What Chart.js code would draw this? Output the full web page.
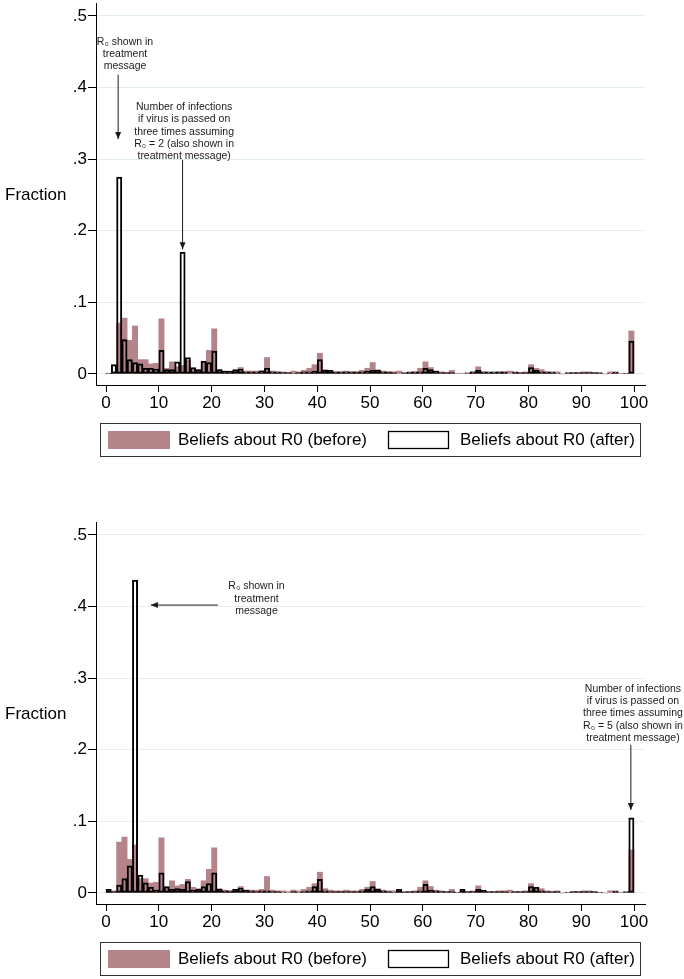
<!DOCTYPE html>
<html>
<head>
<meta charset="utf-8">
<script src="https://cdn.jsdelivr.net/npm/chart.js@4.4.1/dist/chart.umd.min.js"></script>
<style>
  html, body { margin: 0; padding: 0; background: #fff; }
  .panel { position: absolute; left: 0; width: 684px; height: 460px; }
  #p1 { top: 0; }
  #p2 { top: 519px; }
</style>
</head>
<body>
<div class="panel" id="p1"><canvas id="chartTop"></canvas></div>
<div class="panel" id="p2"><canvas id="chartBottom"></canvas></div>
<script>
	// bins of width 1 (left edge), last bin holds 99 and 100
	const binStart = [
		0, 1, 2, 3, 4, 5, 6, 7, 8, 9,
		10, 11, 12, 13, 14, 15, 16, 17, 18, 19,
		20, 21, 22, 23, 24, 25, 26, 27, 28, 29,
		30, 31, 32, 33, 34, 35, 36, 37, 38, 39,
		40, 41, 42, 43, 44, 45, 46, 47, 48, 49,
		50, 51, 52, 53, 54, 55, 56, 57, 58, 59,
		60, 61, 62, 63, 64, 65, 66, 67, 68, 69,
		70, 71, 72, 73, 74, 75, 76, 77, 78, 79,
		80, 81, 82, 83, 84, 85, 86, 87, 88, 89,
		90, 91, 92, 93, 94, 95, 96, 97, 98, 99
	];

	// beliefs before (same in both panels)
	const before = [
		.001, .003, .071, .078, .047, .067, .020, .020, .014, .015,
		.077, .008, .017, .010, .012, .019, .008, .006, .017, .033,
		.063, .006, .004, .003, .005, .009, .004, .004, .004, .005,
		.023, .004, .003, .003, .002, .004, .003, .005, .008, .013,
		.029, .006, .004, .003, .003, .004, .003, .003, .005, .008,
		.016, .006, .004, .003, .003, .004, .001, .002, .003, .008,
		.017, .009, .004, .003, .002, .005, .001, .001, .002, .003,
		.010, .003, .002, .002, .003, .003, .004, .002, .002, .003,
		.013, .008, .006, .003, .002, .003, 0, .001, .002, .002,
		.003, .003, .002, .001, 0, .003, .002, .001, .001, .060
	];

	// beliefs after, R0 = 2 treatment (top panel)
	const afterTop = [
		.001, .013, .275, .048, .020, .016, .014, .008, .008, .007,
		.033, .006, .006, .017, .170, .023, .009, .006, .018, .016,
		.032, .006, .004, .004, .006, .007, .003, .003, .003, .004,
		.008, .003, .003, .002, .002, .001, .002, .003, .003, .004,
		.020, .005, .005, .003, .003, .003, .003, .003, .003, .004,
		.005, .005, .003, .003, .002, 0, .002, .003, .003, .003,
		.008, .006, .004, .002, .002, .002, 0, 0, .001, .003,
		.005, .003, .003, .003, .003, .003, 0, .003, .002, .002,
		.009, .005, .003, .003, .003, .001, 0, .002, .002, .002,
		.002, .002, .002, .002, 0, .001, .003, 0, .001, .046
	];

	// beliefs after, R0 = 5 treatment (bottom panel)
	const afterBottom = [
		.005, .002, .011, .020, .038, .437, .025, .014, .008, .004,
		.028, .009, .005, .006, .005, .016, .004, .005, .009, .013,
		.028, .005, .003, .003, .005, .007, .004, .003, .002, .003,
		.003, .002, .002, .001, 0, .002, .001, .002, .003, .009,
		.019, .003, .002, .002, .002, .002, .002, .002, .003, .005,
		.009, .005, .003, .002, .001, .005, .002, .002, .002, .003,
		.012, .004, .003, .002, .002, .002, .001, .005, .002, .002,
		.005, .004, .002, .002, .002, .002, .001, .002, .002, .002,
		.009, .008, .003, .002, .002, .002, 0, .001, .002, .002,
		.002, .002, .002, .001, 0, 0, .003, 0, .002, .105
	];

	const yTicks = [0, .1, .2, .3, .4, .5];
	const yTickLabels = ['0', '.1', '.2', '.3', '.4', '.5'];
	const xTicks = [0, 10, 20, 30, 40, 50, 60, 70, 80, 90, 100];
	const legendLabels = ['Beliefs about R0 (before)', 'Beliefs about R0 (after)'];
	const yTitle = 'Fraction';

	// annotations, positions in data units
	const notesTop = [
		{ lines: ['R\u2080 shown in', 'treatment', 'message'], tx: 3.6, ty: .464,
		  from: [2.3, .418], to: [2.3, .328] },
		{ lines: ['Number of infections', 'if virus is passed on', 'three times assuming', 'R\u2080 = 2 (also shown in', 'treatment message)'],
		  tx: 14.8, ty: .3725, from: [14.5, .299], to: [14.5, .174] }
	];
	const notesBottom = [
		{ lines: ['R\u2080 shown in', 'treatment', 'message'], tx: 28.5, ty: .428,
		  from: [21.2, .402], to: [8.5, .402] },
		{ lines: ['Number of infections', 'if virus is passed on', 'three times assuming', 'R\u2080 = 5 (also shown in', 'treatment message)'],
		  tx: 99.8, ty: .285, from: [99.4, .207], to: [99.4, .116] }
	];

	const FONT = "'Liberation Sans', Arial, Helvetica, sans-serif";
	const MAUVE = 'rgb(180, 132, 139)';

	const decorPlugin = {
		id: 'decor',
		afterDraw(chart, args, opts) {
			const ctx = chart.ctx;
			const xs = chart.scales.x;
			const ys = chart.scales.y;
			const area = chart.chartArea;
			ctx.save();

			// y title, horizontal
			ctx.fillStyle = '#000';
			ctx.font = '17px ' + FONT;
			ctx.textAlign = 'left';
			ctx.textBaseline = 'middle';
			ctx.fillText(yTitle, 5, ys.getPixelForValue((yTicks[0] + yTicks[yTicks.length - 1]) / 2));

			// notes + arrows
			ctx.font = '10.5px ' + FONT;
			ctx.textAlign = 'center';
			ctx.fillStyle = '#1a1a1a';
			for (const n of opts.notes) {
				const tx = xs.getPixelForValue(n.tx);
				const ty = ys.getPixelForValue(n.ty);
				n.lines.forEach((l, i) => ctx.fillText(l, tx, ty + i * 12.3));
				const x1 = xs.getPixelForValue(n.from[0]), y1 = ys.getPixelForValue(n.from[1]);
				const x2 = xs.getPixelForValue(n.to[0]), y2 = ys.getPixelForValue(n.to[1]);
				ctx.strokeStyle = '#1a1a1a';
				ctx.lineWidth = 1;
				ctx.beginPath();
				ctx.moveTo(x1, y1);
				ctx.lineTo(x2, y2);
				ctx.stroke();
				const a = Math.atan2(y2 - y1, x2 - x1);
				ctx.beginPath();
				ctx.moveTo(x2, y2);
				ctx.lineTo(x2 - 7 * Math.cos(a) + 3 * Math.sin(a), y2 - 7 * Math.sin(a) - 3 * Math.cos(a));
				ctx.lineTo(x2 - 7 * Math.cos(a) - 3 * Math.sin(a), y2 - 7 * Math.sin(a) + 3 * Math.cos(a));
				ctx.closePath();
				ctx.fill();
			}

			// legend box
			const lx = area.left + 4, lw = area.right - 5 - lx;
			const ly = area.bottom + 38, lh = 33;
			ctx.strokeStyle = '#333';
			ctx.lineWidth = 1;
			ctx.strokeRect(lx + 0.5, ly + 0.5, lw, lh);
			ctx.fillStyle = MAUVE;
			ctx.fillRect(lx + 8, ly + 8, 62, 18);
			ctx.fillStyle = '#fff';
			ctx.fillRect(lx + 288, ly + 8, 61, 18);
			ctx.strokeStyle = '#000';
			ctx.lineWidth = 1.3;
			ctx.strokeRect(lx + 288.5, ly + 8.5, 60, 17);
			ctx.fillStyle = '#000';
			ctx.font = '17px ' + FONT;
			ctx.textAlign = 'left';
			ctx.textBaseline = 'middle';
			ctx.fillText(legendLabels[0], lx + 78, ly + 17.5);
			ctx.fillText(legendLabels[1], lx + 360, ly + 17.5);
			ctx.restore();
		}
	};

	function makeChart(id, after, notes) {
		const ctx = document.getElementById(id);
		return new Chart(ctx, {
			type: 'bar',
			data: {
				datasets: [
					{
						label: legendLabels[0],
						data: binStart.map((b, i) => ({ x: b + 0.5, y: before[i] })),
						backgroundColor: MAUVE,
						borderWidth: 0,
						grouped: false,
						order: 2,
						barPercentage: 1,
						categoryPercentage: 1
					},
					{
						label: legendLabels[1],
						data: binStart.map((b, i) => ({ x: b + 0.5, y: after[i] })),
						backgroundColor: 'rgba(0,0,0,0)',
						borderColor: '#000',
						borderWidth: 1.3,
						borderSkipped: false,
						grouped: false,
						order: 1,
						barPercentage: 1,
						categoryPercentage: 1
					}
				]
			},
			options: {
				responsive: true,
				maintainAspectRatio: false,
				animation: false,
				layout: { padding: { left: 0, top: 3, right: 39, bottom: 35 } },
				plugins: {
					legend: { display: false },
					tooltip: { enabled: false },
					decor: { notes: notes }
				},
				scales: {
					x: {
						type: 'linear',
						min: -1.894,
						max: 102.08,
						offset: false,
						afterBuildTicks: (s) => { s.ticks = xTicks.map(v => ({ value: v })); },
						afterFit: (s) => { s.height = 40; s.paddingLeft = 0; s.paddingRight = 0; },
						grid: { offset: false, drawOnChartArea: false, tickLength: 7, tickColor: '#000' },
						border: { color: '#000', width: 1 },
						ticks: { color: '#000', padding: 1, maxRotation: 0, font: { family: FONT, size: 17 } }
					},
					y: {
						min: -0.0154,
						max: 0.518,
						afterBuildTicks: (s) => { s.ticks = yTicks.map(v => ({ value: v })); },
						afterFit: (s) => { s.width = 96; s.paddingTop = 0; s.paddingBottom = 0; },
						grid: { color: '#e3eef0', lineWidth: 1, tickLength: 8, tickColor: '#000' },
						border: { color: '#000', width: 1 },
						ticks: {
							color: '#000', padding: 1, font: { family: FONT, size: 17 },
							callback: (v, i) => yTickLabels[i]
						}
					}
				}
			},
			plugins: [decorPlugin]
		});
	}

	makeChart('chartTop', afterTop, notesTop);
	makeChart('chartBottom', afterBottom, notesBottom);
</script>
</body>
</html>
